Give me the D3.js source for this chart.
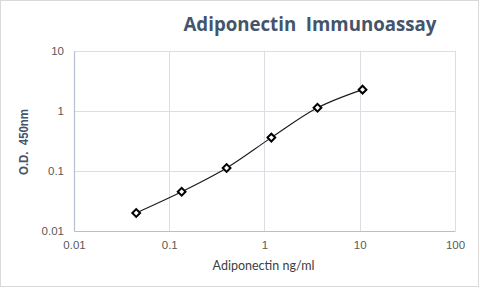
<!DOCTYPE html>
<html>
<head>
<meta charset="utf-8">
<script src="https://cdn.jsdelivr.net/npm/d3@7"></script>
<style>
  body { margin: 0; background: #fff; }
  svg { display: block; }
</style>
</head>
<body>
<div id="container"></div>
<script>
// Data.
const concentrations = [0.045, 0.135, 0.40, 1.18, 3.6, 10.7];
const odValues = [0.020, 0.045, 0.112, 0.36, 1.13, 2.27];
const xTicks = [0.01, 0.1, 1, 10, 100];
const yTicks = [0.01, 0.1, 1, 10];
const xTickLabels = ['0.01', '0.1', '1', '10', '100'];
const yTickLabels = ['0.01', '0.1', '1', '10'];

const W = 480, H = 288;
const margin = { top: 51, right: 25, bottom: 57, left: 74 };
const width = W - margin.left - margin.right,
  height = H - margin.top - margin.bottom;

const svg = d3.select('#container')
  .append('svg')
  .attr('width', W)
  .attr('height', H);

// Chart border.
svg.append('rect')
  .attr('x', 0.5).attr('y', 0.5)
  .attr('width', W - 2).attr('height', H - 2)
  .attr('fill', '#fff')
  .attr('stroke', '#d9d9d9');

const g = svg.append('g')
  .attr('transform', `translate(${margin.left} ${margin.top})`);

const x = d3.scaleLog().domain([0.01, 100]).range([0, width]);
const y = d3.scaleLog().domain([0.01, 10]).range([height, 0]);

// Gridlines.
g.append('g')
  .selectAll('line')
  .data(xTicks.slice(1))
  .join('line')
  .attr('x1', d => Math.round(x(d)) + 0.5)
  .attr('x2', d => Math.round(x(d)) + 0.5)
  .attr('y1', 0).attr('y2', height)
  .attr('stroke', '#dadde3');

g.append('g')
  .selectAll('line')
  .data(yTicks.slice(1))
  .join('line')
  .attr('y1', d => Math.round(y(d)) + 0.5)
  .attr('y2', d => Math.round(y(d)) + 0.5)
  .attr('x1', 0).attr('x2', width)
  .attr('stroke', '#dadde3');

// Axes.
const xAxis = g.append('g')
  .attr('transform', `translate(0 ${height})`)
  .call(d3.axisBottom(x).tickValues(xTicks).tickSize(0).tickPadding(10)
    .tickFormat((d, i) => xTickLabels[i]));

const yAxis = g.append('g')
  .call(d3.axisLeft(y).tickValues(yTicks).tickSize(0).tickPadding(10)
    .tickFormat((d, i) => yTickLabels[i]));

[xAxis, yAxis].forEach(a => {
  a.select('.domain').attr('stroke', '#b4bfd0').attr('stroke-width', 1.2);
  a.selectAll('text')
    .attr('fill', '#595959')
    .attr('font-family', 'Liberation Sans, Arial, sans-serif')
    .attr('font-size', 11.5);
});

// Smoothed curve through the points.
const pts = concentrations.map((c, i) => ({ c, od: odValues[i] }));

const line = d3.line()
  .x(d => x(d.c))
  .y(d => y(d.od))
  .curve(d3.curveCatmullRom.alpha(0.5));

g.append('path')
  .datum(pts)
  .attr('d', line)
  .attr('fill', 'none')
  .attr('stroke', '#1a1a1a')
  .attr('stroke-width', 1.1);

// Diamond markers.
g.append('g')
  .selectAll('path')
  .data(pts)
  .join('path')
  .attr('d', d3.symbol().type(d3.symbolSquare).size(30))
  .attr('transform', d => `translate(${x(d.c)} ${y(d.od)}) rotate(45)`)
  .attr('fill', '#fff')
  .attr('stroke', '#000')
  .attr('stroke-width', 2);

// Titles.
svg.append('text')
  .attr('x', 310)
  .attr('y', 31)
  .attr('text-anchor', 'middle')
  .attr('fill', '#44546a')
  .attr('font-family', 'Open Sans, sans-serif')
  .attr('font-weight', 'bold')
  .attr('font-size', 19)
  .attr('textLength', 253)
  .attr('lengthAdjust', 'spacingAndGlyphs')
  .style('white-space', 'pre')
  .text('Adiponectin  Immunoassay');

svg.append('text')
  .attr('x', margin.left + width / 2 - 1)
  .attr('y', 270)
  .attr('text-anchor', 'middle')
  .attr('fill', '#404040')
  .attr('font-family', 'Lato, sans-serif')
  .attr('font-size', 12.5)
  .text('Adiponectin ng/ml');

svg.append('text')
  .attr('transform', `translate(28 142) rotate(-90)`)
  .attr('text-anchor', 'middle')
  .attr('fill', '#44546a')
  .attr('font-family', 'Liberation Sans, Arial, sans-serif')
  .attr('font-weight', 'bold')
  .attr('font-size', 12)
  .attr('textLength', 66)
  .attr('lengthAdjust', 'spacingAndGlyphs')
  .style('white-space', 'pre')
  .text('O.D.  450nm');
</script>
</body>
</html>
